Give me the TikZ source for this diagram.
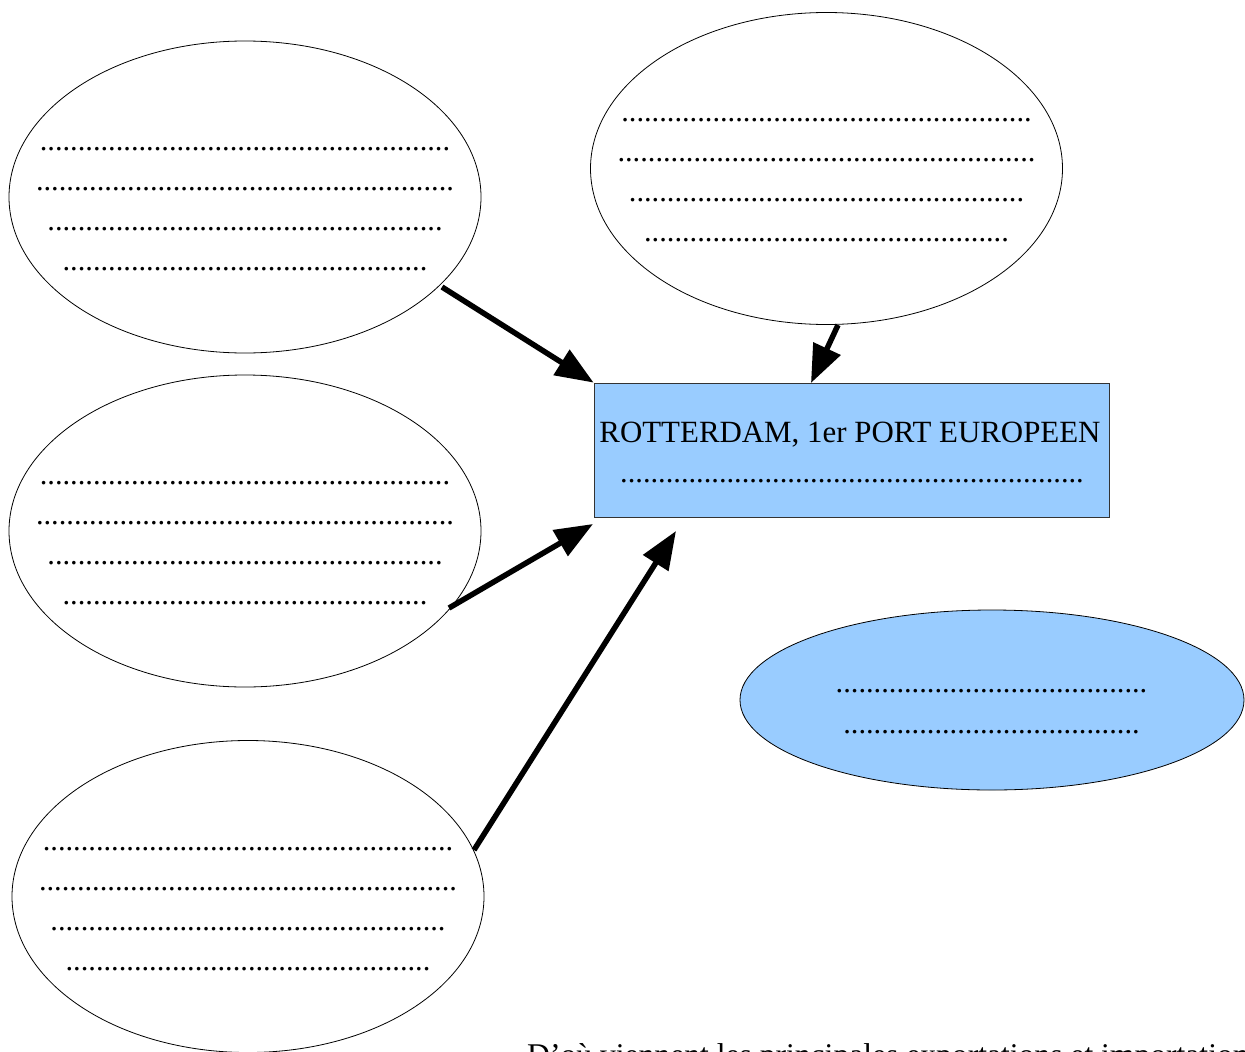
\documentclass[tikz,border=0pt]{standalone}
\usepackage{fontspec}
\setmainfont{Liberation Serif}
\usetikzlibrary{shapes.geometric,arrows.meta}
\definecolor{lightblue}{RGB}{153,204,255}
\newcount\mydotcnt
\newcommand{\mydots}[1]{\mydotcnt=0 \loop .\advance\mydotcnt by 1 \ifnum\mydotcnt<#1 \repeat}
\tikzset{
  bubble/.style={ellipse,draw=black,line width=0.8pt,inner sep=0pt,minimum width=472pt,minimum height=312pt},
  bluebubble/.style={ellipse,draw=black,line width=0.8pt,fill=lightblue,inner sep=0pt,minimum width=504pt,minimum height=180pt},
  titlebox/.style={rectangle,draw=black!80,line width=0.8pt,fill=lightblue,inner sep=0pt,minimum width=515pt,minimum height=134pt},
  txt/.style={font=\fontsize{30.4}{36}\selectfont,inner sep=0pt,anchor=base},
  bigarrow/.style={line width=5.5pt,-{Triangle[length=38pt,width=29pt]}}
}
\begin{document}
\begin{tikzpicture}[x=1pt,y=-1pt]
\useasboundingbox (0,0) rectangle (1245,1052);
\clip (0,0) rectangle (1245,1052);
% ellipses
\node[bubble] (e1) at (245,197) {};
\node[bubble] (e2) at (826.5,168.5) {};
\node[bubble] (e3) at (245,531) {};
\node[bubble] (e4) at (248,896.5) {};
\node[bluebubble] (e5) at (992,700) {};
\node[titlebox] (box) at (851.5,450) {};
% texts in e1
\node[txt] (t11) at (245,150) {\mydots{54}};
\node[txt] (t12) at (245,190) {\mydots{55}};
\node[txt] (t13) at (245,230) {\mydots{52}};
\node[txt] (t14) at (245,270) {\mydots{48}};
% texts in e2
\node[txt] (t21) at (826.5,121) {\mydots{54}};
\node[txt] (t22) at (826.5,161) {\mydots{55}};
\node[txt] (t23) at (826.5,201) {\mydots{52}};
\node[txt] (t24) at (826.5,241) {\mydots{48}};
% texts in e3
\node[txt] (t31) at (245,484) {\mydots{54}};
\node[txt] (t32) at (245,524) {\mydots{55}};
\node[txt] (t33) at (245,564) {\mydots{52}};
\node[txt] (t34) at (245,604) {\mydots{48}};
% texts in e4
\node[txt] (t41) at (248,850) {\mydots{54}};
\node[txt] (t42) at (248,890) {\mydots{55}};
\node[txt] (t43) at (248,930) {\mydots{52}};
\node[txt] (t44) at (248,970) {\mydots{48}};
% blue ellipse texts
\node[txt] (t51) at (991.5,692) {\mydots{41}};
\node[txt] (t52) at (991.5,733) {\mydots{39}};
% box texts
\node[txt,font=\fontsize{30.9}{36}\selectfont] (title) at (850,442) {ROTTERDAM, 1er PORT EUROPEEN};
\node[txt] (tdots) at (852,482) {\mydots{61}};
% bottom text (cut off by the lower edge, as in the reference)
\node[txt,font=\fontsize{31.6}{36}\selectfont,anchor=base west] (bottom) at (527,1065) {D'où viennent les principales exportations et importations};
% arrow end points
\coordinate (s1) at (442,287);
\coordinate (s2) at (838,325);
\coordinate (s3) at (449,608);
\coordinate (s4) at (474,850);
\coordinate (p2) at (811,383);
\coordinate (p3) at (593,524);
\coordinate (p4) at (676,531);
\draw[bigarrow] (s1) -- (box.north west);
\draw[bigarrow] (s2) -- (p2);
\draw[bigarrow] (s3) -- (p3);
\draw[bigarrow] (s4) -- (p4);
\end{tikzpicture}
\end{document}
